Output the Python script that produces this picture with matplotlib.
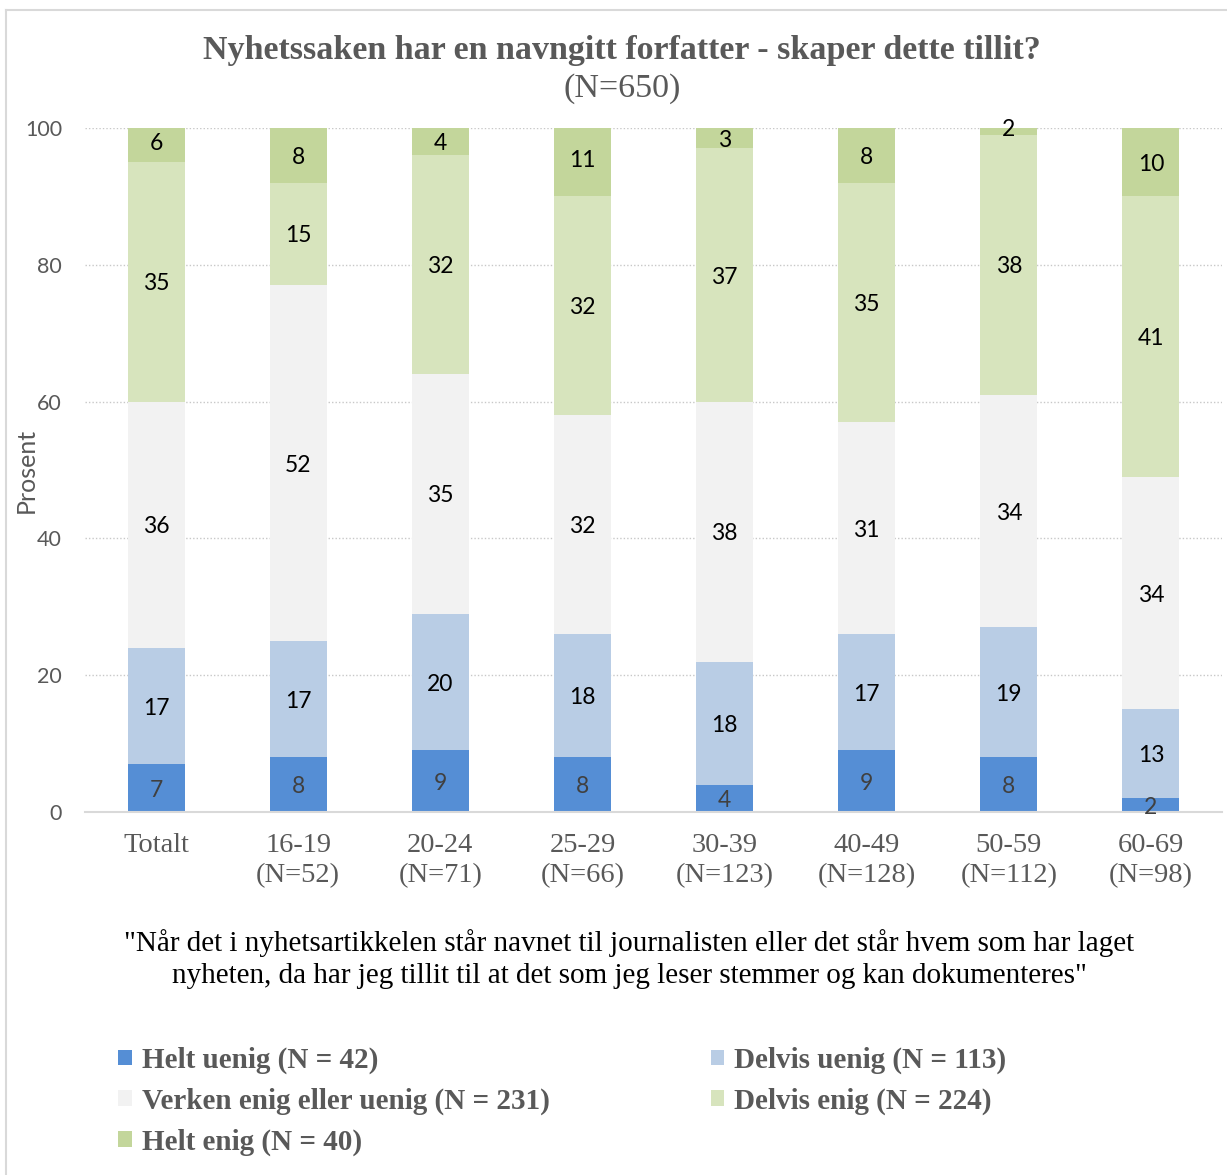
import matplotlib
matplotlib.use("Agg")
import matplotlib.pyplot as plt
import numpy as np
from matplotlib.lines import Line2D

# Data (percent per age group)
categories = ["Totalt", "16-19\n(N=52)", "20-24\n(N=71)", "25-29\n(N=66)",
              "30-39\n(N=123)", "40-49\n(N=128)", "50-59\n(N=112)", "60-69\n(N=98)"]
helt_uenig = [7, 8, 9, 8, 4, 9, 8, 2]
delvis_uenig = [17, 17, 20, 18, 18, 17, 19, 13]
verken = [36, 52, 35, 32, 38, 31, 34, 34]
delvis_enig = [35, 15, 32, 32, 37, 35, 38, 41]
helt_enig = [6, 8, 4, 11, 3, 8, 2, 10]

series_names = ["Helt uenig (N = 42)", "Delvis uenig (N = 113)",
                "Verken enig eller uenig (N = 231)", "Delvis enig (N = 224)",
                "Helt enig (N = 40)"]
colors = ["#558ED5", "#B9CDE5", "#F2F2F2", "#D7E4BD", "#C3D69B"]
label_colors = ["#404040", "black", "black", "black", "black"]

serif = "Liberation Serif"
sans = "Lato"
gray = "#595959"

fig = plt.figure(figsize=(12.27, 11.75), dpi=100)
ax = fig.add_axes([0.0693, 0.3089, 0.9266, 0.5822])

# outer frame (top and left edges visible)
fig.add_artist(Line2D([0.005, 1.0], [0.9915, 0.9915], transform=fig.transFigure,
                      color="#d9d9d9", lw=1.5))
fig.add_artist(Line2D([0.005, 0.005], [0.0, 0.9915], transform=fig.transFigure,
                      color="#d9d9d9", lw=1.5))

x = np.arange(len(categories))
all_series = [helt_uenig, delvis_uenig, verken, delvis_enig, helt_enig]
bottom = np.zeros(len(categories))
handles = []
for vals, name, col, lc in zip(all_series, series_names, colors, label_colors):
    vals = np.array(vals)
    b = ax.bar(x, vals, 0.4, bottom=bottom, color=col, label=name, zorder=2)
    handles.append(b)
    for xi, v, bt in zip(x, vals, bottom):
        ax.text(xi, bt + v / 2, str(v), ha="center", va="center_baseline",
                fontsize=16.5, color=lc, family=sans, zorder=3)
    bottom += vals

ax.set_xlim(-0.5, len(categories) - 0.5)
ax.set_ylim(0, 100)
ax.set_yticks([0, 20, 40, 60, 80, 100])
ax.yaxis.grid(True, linestyle=(0, (1, 1.5)), color="#c8c8c8", lw=1, zorder=0)
for s in ["top", "right", "left"]:
    ax.spines[s].set_visible(False)
ax.spines["bottom"].set_color("#d9d9d9")
ax.spines["bottom"].set_linewidth(1.5)
ax.tick_params(axis="both", length=0)
ax.tick_params(axis="y", pad=16.5)
ax.tick_params(axis="x", pad=15)
ax.set_xticks(x)
ax.set_xticklabels(categories, family=serif, fontsize=20.5, color=gray, linespacing=1.27)
for t in ax.get_yticklabels():
    t.set_family(sans)
    t.set_fontsize(15.5)
    t.set_color(gray)
ax.set_ylabel("Prosent", family=sans, fontsize=18, color=gray)
ax.yaxis.set_label_coords(-0.042, 0.5)

fig.text(0.507, 0.957, "Nyhetssaken har en navngitt forfatter - skaper dette tillit?",
         ha="center", va="center", family=serif, fontsize=24.5, weight="bold", color=gray)
fig.text(0.507, 0.925, "(N=650)", ha="center", va="center", family=serif,
         fontsize=24.5, color=gray)

fig.text(0.5126, 0.1838,
         "\"Når det i nyhetsartikkelen står navnet til journalisten eller det står hvem som har laget\n"
         "nyheten, da har jeg tillit til at det som jeg leser stemmer og kan dokumenteres\"",
         ha="center", va="center", family=serif, fontsize=21, color="black",
         linespacing=1.28)

leg_props = {"family": serif, "weight": "bold", "size": 21}
leg_kw = dict(loc="upper left", frameon=False, prop=leg_props, handlelength=0.45,
              handleheight=0.45, handletextpad=0.35, labelspacing=0.46, borderaxespad=0)
leg1 = fig.legend([handles[0], handles[2], handles[4]],
                  [series_names[0], series_names[2], series_names[4]],
                  bbox_to_anchor=(0.087, 0.119), **leg_kw)
leg2 = fig.legend([handles[1], handles[3]], [series_names[1], series_names[3]],
                  bbox_to_anchor=(0.570, 0.119), **leg_kw)
for leg in (leg1, leg2):
    for t in leg.get_texts():
        t.set_color(gray)

fig.savefig("out.png", dpi=100)
